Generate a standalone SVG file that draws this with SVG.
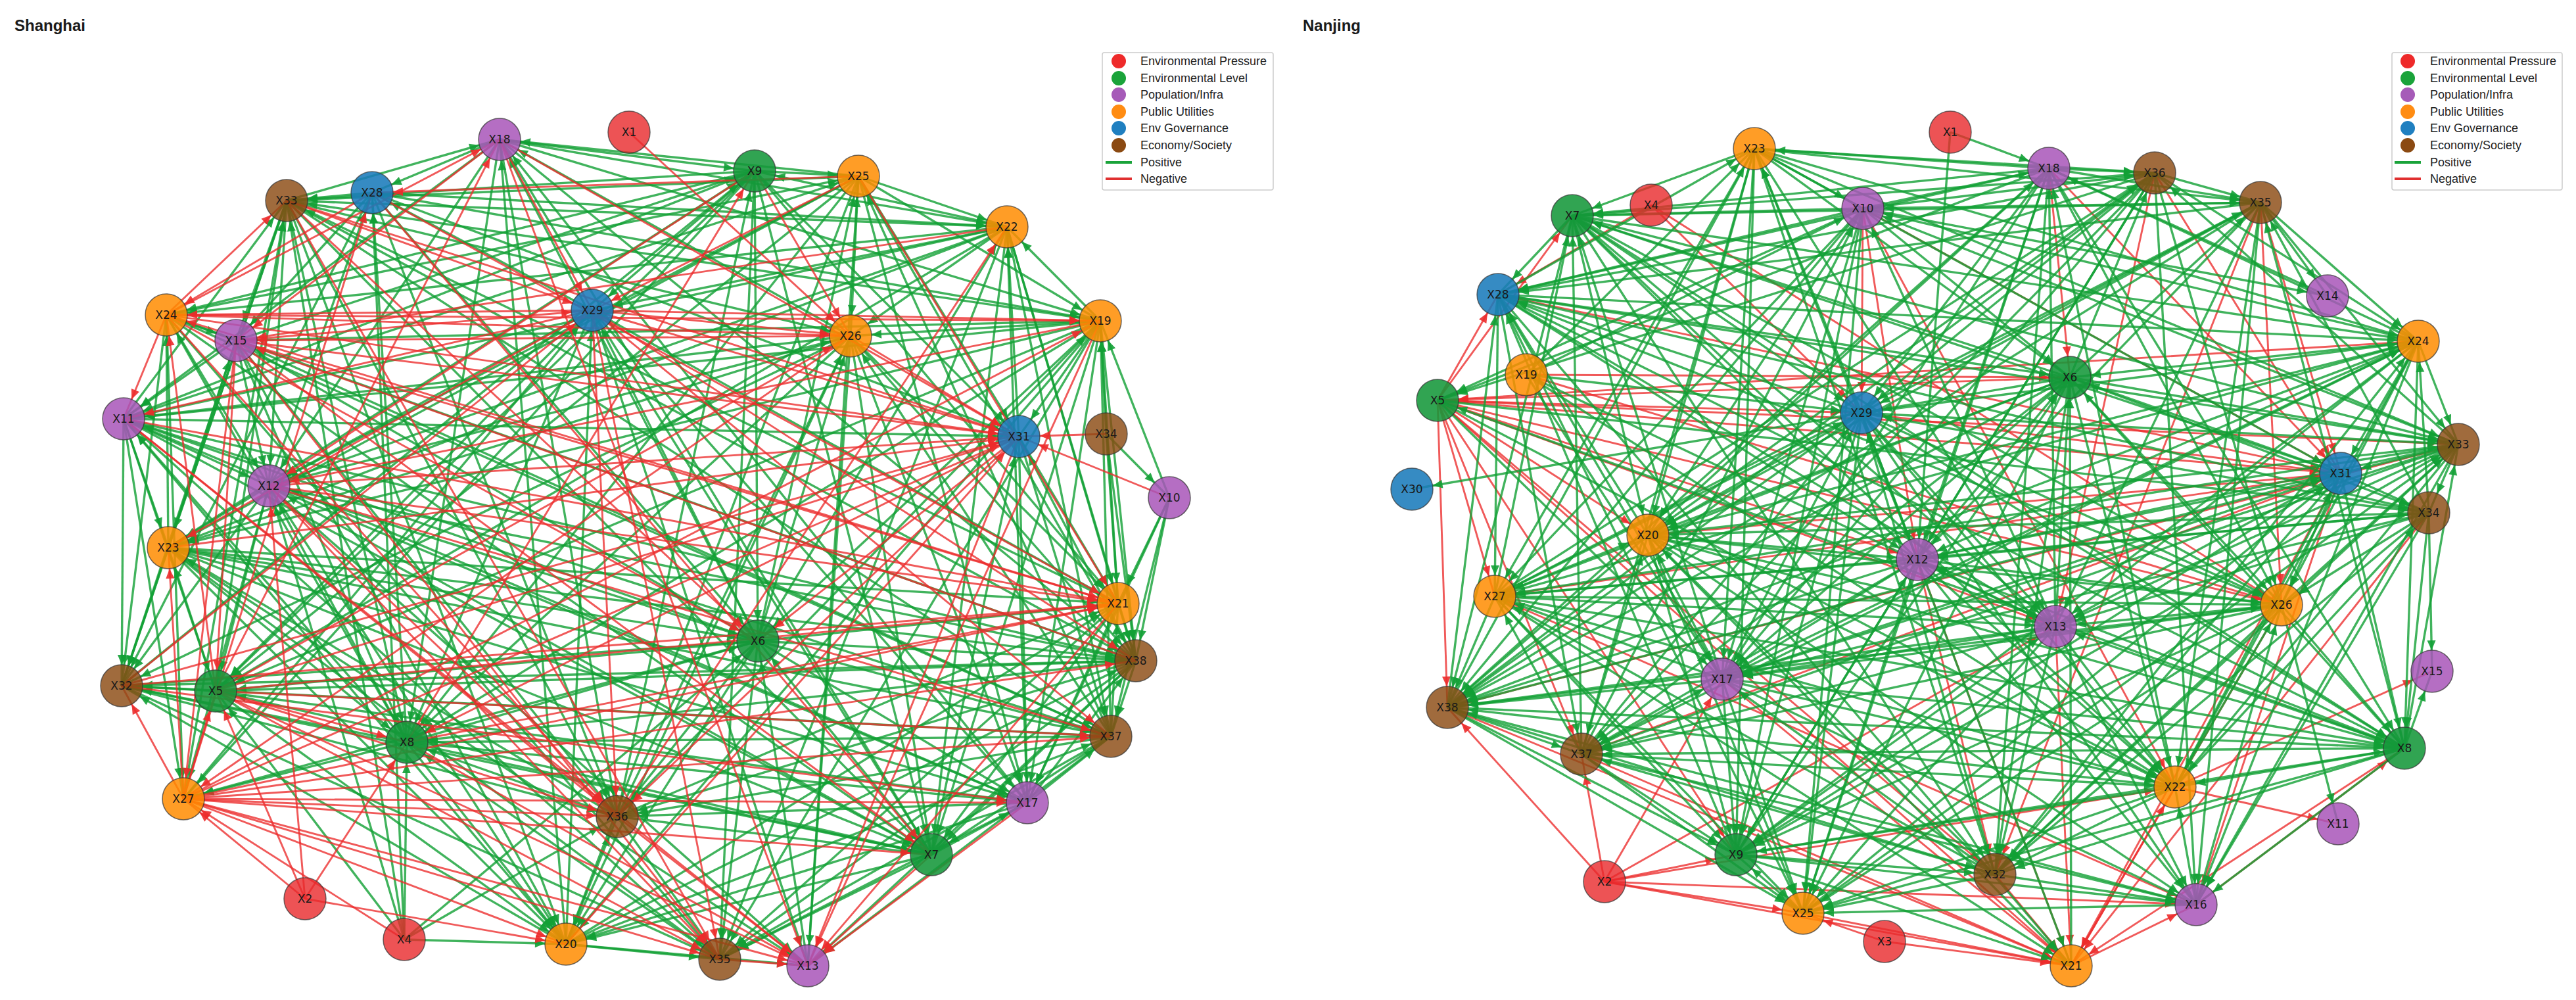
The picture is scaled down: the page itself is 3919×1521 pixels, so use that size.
<svg xmlns="http://www.w3.org/2000/svg" width="3919" height="1521" viewBox="0 0 3919 1521">
<style>
.eg path{fill:none;stroke:#12a035;stroke-width:3.4;stroke-opacity:.8;marker-end:url(#ag)}
.er path{fill:none;stroke:#ec2b2b;stroke-width:2.9;stroke-opacity:.78;marker-end:url(#ar)}
.node circle{stroke:#333;stroke-width:1.5;stroke-opacity:.7}
.node text{font-family:"DejaVu Sans",sans-serif;font-size:17px;text-anchor:middle;fill:#1a1a1a}
.ep{fill:#e8282b;fill-opacity:.8}
.el{fill:#14973a;fill-opacity:.88}
.pi{fill:#a855b8;fill-opacity:.85}
.pu{fill:#ff8c00;fill-opacity:.85}
.gv{fill:#1a7bbb;fill-opacity:.88}
.ec{fill:#8b4a12;fill-opacity:.82}
.title{font-family:"Liberation Sans",Arial,sans-serif;font-size:24px;font-weight:bold;fill:#1a1a1a}
.legend rect{fill:#fff;stroke:#ccc;stroke-width:1.5}
.legend text{font-family:"Liberation Sans",Arial,sans-serif;font-size:18px;fill:#222}
</style>
<defs>
<marker id="ag" viewBox="0 0 60 20" refX="54" refY="10" markerWidth="60" markerHeight="20" markerUnits="userSpaceOnUse" orient="auto"><path d="M7 3.5L22 10L7 16.5z" fill="#12a035" fill-opacity=".9"/></marker>
<marker id="ar" viewBox="0 0 60 20" refX="54" refY="10" markerWidth="60" markerHeight="20" markerUnits="userSpaceOnUse" orient="auto"><path d="M7 3.5L22 10L7 16.5z" fill="#ec2b2b" fill-opacity=".9"/></marker>
</defs>
<rect width="3919" height="1521" fill="#fff"/>
<text class="title" x="22" y="47">Shanghai</text>
<text class="title" x="1982" y="47">Nanjing</text>

<g id="connectors-shanghai">
<g class="eg">
<path d="M760 212L1148 260"/><path d="M1306 268L760 212"/><path d="M760 212L566 293"/><path d="M436 305L760 212"/><path d="M760 212L1532 345"/><path d="M760 212L1674 488"/><path d="M1294 511L760 212"/><path d="M760 212L188 637"/><path d="M760 212L409 739"/><path d="M1153 975L760 212"/><path d="M760 212L1728 1005"/><path d="M760 212L619 1129"/><path d="M1563 1221L760 212"/><path d="M760 212L939 1242"/><path d="M760 212L1417 1300"/><path d="M861 1436L760 212"/>
<path d="M1148 260L1306 268"/><path d="M1148 260L436 305"/><path d="M1532 345L1148 260"/><path d="M1148 260L901 472"/><path d="M1148 260L253 479"/><path d="M359 518L1148 260"/><path d="M1148 260L188 637"/><path d="M1148 260L1550 664"/><path d="M256 833L1148 260"/><path d="M1148 260L1701 918"/><path d="M1148 260L1153 975"/><path d="M185 1043L1148 260"/><path d="M1148 260L328 1051"/><path d="M1148 260L279 1215"/><path d="M939 1242L1148 260"/><path d="M1148 260L1417 1300"/><path d="M1148 260L1095 1459"/>
<path d="M1306 268L436 305"/><path d="M1306 268L1532 345"/><path d="M253 479L1306 268"/><path d="M1306 268L1674 488"/><path d="M1306 268L1294 511"/><path d="M188 637L1306 268"/><path d="M1306 268L1550 664"/><path d="M1306 268L409 739"/><path d="M1306 268L256 833"/><path d="M1153 975L1306 268"/><path d="M1306 268L1728 1005"/><path d="M1306 268L328 1051"/><path d="M1690 1120L1306 268"/><path d="M1306 268L619 1129"/><path d="M1306 268L1563 1221"/><path d="M1306 268L861 1436"/><path d="M1229 1469L1306 268"/>
<path d="M566 293L436 305"/><path d="M566 293L1532 345"/><path d="M901 472L566 293"/><path d="M566 293L1674 488"/><path d="M566 293L359 518"/><path d="M566 293L1550 664"/><path d="M409 739L566 293"/><path d="M566 293L1153 975"/><path d="M566 293L185 1043"/><path d="M619 1129L566 293"/><path d="M566 293L939 1242"/>
<path d="M436 305L1532 345"/><path d="M1674 488L436 305"/><path d="M436 305L1294 511"/><path d="M436 305L359 518"/><path d="M188 637L436 305"/><path d="M436 305L409 739"/><path d="M436 305L256 833"/><path d="M1701 918L436 305"/><path d="M436 305L1728 1005"/><path d="M436 305L185 1043"/><path d="M328 1051L436 305"/><path d="M436 305L1690 1120"/><path d="M436 305L619 1129"/><path d="M279 1215L436 305"/><path d="M436 305L939 1242"/><path d="M436 305L1417 1300"/><path d="M436 305L861 1436"/>
<path d="M1532 345L901 472"/><path d="M1532 345L253 479"/><path d="M1674 488L1532 345"/><path d="M1532 345L1294 511"/><path d="M1532 345L188 637"/><path d="M1550 664L1532 345"/><path d="M1532 345L409 739"/><path d="M1532 345L256 833"/><path d="M1532 345L1701 918"/><path d="M1153 975L1532 345"/><path d="M1532 345L1728 1005"/><path d="M1532 345L328 1051"/><path d="M1532 345L1690 1120"/><path d="M1563 1221L1532 345"/><path d="M1532 345L1417 1300"/><path d="M1532 345L1095 1459"/>
<path d="M901 472L409 739"/><path d="M901 472L1701 918"/><path d="M1153 975L901 472"/><path d="M901 472L328 1051"/><path d="M901 472L619 1129"/><path d="M279 1215L901 472"/><path d="M901 472L1563 1221"/><path d="M901 472L1417 1300"/><path d="M861 1436L901 472"/><path d="M901 472L1229 1469"/>
<path d="M253 479L359 518"/><path d="M253 479L409 739"/><path d="M256 833L253 479"/><path d="M253 479L1728 1005"/><path d="M253 479L185 1043"/><path d="M253 479L1690 1120"/><path d="M619 1129L253 479"/><path d="M253 479L279 1215"/><path d="M253 479L1417 1300"/><path d="M253 479L1095 1459"/>
<path d="M1674 488L1294 511"/><path d="M359 518L1674 488"/><path d="M1674 488L188 637"/><path d="M1674 488L1550 664"/><path d="M1674 488L256 833"/><path d="M1701 918L1674 488"/><path d="M1674 488L1153 975"/><path d="M1674 488L1728 1005"/><path d="M1674 488L328 1051"/><path d="M1690 1120L1674 488"/><path d="M1674 488L619 1129"/><path d="M1674 488L1563 1221"/><path d="M939 1242L1674 488"/><path d="M1674 488L1417 1300"/><path d="M1674 488L861 1436"/><path d="M1674 488L1095 1459"/>
<path d="M1294 511L188 637"/><path d="M409 739L1294 511"/><path d="M1294 511L256 833"/><path d="M1294 511L1701 918"/><path d="M1153 975L1294 511"/><path d="M1294 511L1728 1005"/><path d="M1294 511L185 1043"/><path d="M1690 1120L1294 511"/><path d="M1294 511L619 1129"/><path d="M1294 511L1563 1221"/><path d="M939 1242L1294 511"/><path d="M1294 511L1417 1300"/><path d="M1294 511L861 1436"/><path d="M1294 511L1229 1469"/>
<path d="M359 518L188 637"/><path d="M359 518L409 739"/><path d="M256 833L359 518"/><path d="M359 518L1153 975"/><path d="M359 518L185 1043"/><path d="M1690 1120L359 518"/><path d="M359 518L619 1129"/><path d="M359 518L939 1242"/><path d="M359 518L861 1436"/>
<path d="M188 637L1550 664"/><path d="M188 637L409 739"/><path d="M188 637L256 833"/><path d="M1153 975L188 637"/><path d="M188 637L1728 1005"/><path d="M188 637L185 1043"/><path d="M188 637L328 1051"/><path d="M188 637L1690 1120"/><path d="M619 1129L188 637"/><path d="M188 637L279 1215"/><path d="M188 637L1563 1221"/><path d="M188 637L1417 1300"/><path d="M861 1436L188 637"/><path d="M188 637L1095 1459"/>
<path d="M1550 664L1701 918"/><path d="M1728 1005L1550 664"/><path d="M1550 664L1690 1120"/><path d="M1550 664L1563 1221"/><path d="M1417 1300L1550 664"/>
<path d="M409 739L256 833"/><path d="M409 739L1153 975"/><path d="M1728 1005L409 739"/><path d="M409 739L185 1043"/><path d="M409 739L328 1051"/><path d="M619 1129L409 739"/><path d="M409 739L279 1215"/><path d="M409 739L1563 1221"/><path d="M1417 1300L409 739"/><path d="M409 739L861 1436"/><path d="M409 739L1229 1469"/>
<path d="M256 833L1701 918"/><path d="M256 833L1153 975"/><path d="M256 833L1728 1005"/><path d="M256 833L185 1043"/><path d="M328 1051L256 833"/><path d="M256 833L1690 1120"/><path d="M256 833L619 1129"/><path d="M256 833L1563 1221"/><path d="M939 1242L256 833"/><path d="M256 833L1417 1300"/><path d="M256 833L861 1436"/><path d="M256 833L1095 1459"/><path d="M256 833L1229 1469"/>
<path d="M1153 975L1701 918"/><path d="M1701 918L1728 1005"/><path d="M1690 1120L1701 918"/><path d="M1701 918L1563 1221"/><path d="M939 1242L1701 918"/><path d="M1701 918L1417 1300"/><path d="M861 1436L1701 918"/><path d="M1701 918L1095 1459"/>
<path d="M1153 975L1728 1005"/><path d="M185 1043L1153 975"/><path d="M1153 975L328 1051"/><path d="M1153 975L1690 1120"/><path d="M619 1129L1153 975"/><path d="M1153 975L279 1215"/><path d="M1153 975L1563 1221"/><path d="M1153 975L939 1242"/><path d="M1417 1300L1153 975"/><path d="M1153 975L861 1436"/><path d="M1153 975L1095 1459"/><path d="M1229 1469L1153 975"/>
<path d="M1728 1005L185 1043"/><path d="M328 1051L1728 1005"/><path d="M1728 1005L1690 1120"/><path d="M1728 1005L619 1129"/><path d="M1563 1221L1728 1005"/><path d="M1728 1005L939 1242"/><path d="M1728 1005L1417 1300"/><path d="M861 1436L1728 1005"/><path d="M1728 1005L1095 1459"/><path d="M1728 1005L1229 1469"/>
<path d="M328 1051L185 1043"/><path d="M185 1043L1690 1120"/><path d="M619 1129L185 1043"/><path d="M185 1043L939 1242"/><path d="M185 1043L1417 1300"/><path d="M861 1436L185 1043"/><path d="M185 1043L1095 1459"/>
<path d="M328 1051L1563 1221"/><path d="M1417 1300L328 1051"/><path d="M328 1051L861 1436"/>
<path d="M1690 1120L619 1129"/><path d="M1563 1221L1690 1120"/><path d="M1690 1120L939 1242"/><path d="M1690 1120L1417 1300"/><path d="M861 1436L1690 1120"/><path d="M1690 1120L1095 1459"/><path d="M1690 1120L1229 1469"/>
<path d="M619 1129L279 1215"/><path d="M619 1129L1563 1221"/><path d="M939 1242L619 1129"/><path d="M619 1129L1417 1300"/><path d="M619 1129L861 1436"/><path d="M1095 1459L619 1129"/>
<path d="M1563 1221L939 1242"/><path d="M1417 1300L1563 1221"/><path d="M1563 1221L861 1436"/><path d="M1563 1221L1095 1459"/>
<path d="M939 1242L1417 1300"/><path d="M861 1436L939 1242"/><path d="M939 1242L1095 1459"/>
<path d="M1417 1300L861 1436"/><path d="M1417 1300L1095 1459"/><path d="M861 1436L1095 1459"/><path d="M861 1436L1229 1469"/>
<path d="M1683 660L1674 488"/><path d="M1683 660L1701 918"/><path d="M1683 660L1728 1005"/><path d="M1683 660L1779 757"/>
<path d="M1779 757L1674 488"/><path d="M1779 757L1701 918"/><path d="M1779 757L1728 1005"/><path d="M1779 757L1690 1120"/><path d="M1779 757L1563 1221"/>
<path d="M615 1429L861 1436"/><path d="M615 1429L619 1129"/><path d="M615 1429L328 1051"/><path d="M615 1429L409 739"/><path d="M615 1429L436 305"/><path d="M615 1429L1153 975"/><path d="M615 1429L939 1242"/><path d="M615 1429L566 293"/>
</g>
<g class="er">
<path d="M760 212L901 472"/><path d="M253 479L760 212"/><path d="M760 212L359 518"/><path d="M760 212L1550 664"/><path d="M328 1051L760 212"/><path d="M760 212L1229 1469"/>
<path d="M1148 260L1294 511"/><path d="M1148 260L409 739"/><path d="M619 1129L1148 260"/>
<path d="M1306 268L566 293"/><path d="M1306 268L901 472"/><path d="M1306 268L1701 918"/>
<path d="M566 293L253 479"/><path d="M566 293L1701 918"/><path d="M279 1215L566 293"/><path d="M566 293L1417 1300"/>
<path d="M436 305L901 472"/><path d="M253 479L436 305"/><path d="M436 305L1550 664"/><path d="M436 305L1153 975"/><path d="M436 305L1095 1459"/>
<path d="M1532 345L359 518"/><path d="M939 1242L1532 345"/>
<path d="M901 472L253 479"/><path d="M901 472L1674 488"/><path d="M901 472L1294 511"/><path d="M359 518L901 472"/><path d="M901 472L188 637"/><path d="M901 472L1550 664"/><path d="M901 472L256 833"/><path d="M901 472L1728 1005"/><path d="M185 1043L901 472"/><path d="M901 472L1690 1120"/><path d="M901 472L939 1242"/><path d="M901 472L1095 1459"/>
<path d="M253 479L1674 488"/><path d="M253 479L1294 511"/><path d="M253 479L188 637"/><path d="M253 479L1550 664"/><path d="M1701 918L253 479"/><path d="M253 479L1153 975"/><path d="M328 1051L253 479"/><path d="M253 479L939 1242"/>
<path d="M1674 488L409 739"/><path d="M279 1215L1674 488"/><path d="M1674 488L1229 1469"/>
<path d="M1294 511L359 518"/><path d="M1294 511L1550 664"/><path d="M328 1051L1294 511"/><path d="M1294 511L279 1215"/>
<path d="M359 518L1550 664"/><path d="M359 518L1701 918"/><path d="M1728 1005L359 518"/><path d="M359 518L328 1051"/><path d="M359 518L279 1215"/><path d="M359 518L1417 1300"/><path d="M359 518L1095 1459"/>
<path d="M188 637L1701 918"/><path d="M188 637L939 1242"/><path d="M188 637L1229 1469"/>
<path d="M409 739L1550 664"/><path d="M256 833L1550 664"/><path d="M1550 664L1153 975"/><path d="M185 1043L1550 664"/><path d="M328 1051L1550 664"/><path d="M1550 664L619 1129"/><path d="M279 1215L1550 664"/><path d="M1550 664L939 1242"/><path d="M861 1436L1550 664"/><path d="M1550 664L1229 1469"/>
<path d="M409 739L1701 918"/><path d="M409 739L1690 1120"/><path d="M409 739L939 1242"/><path d="M409 739L1095 1459"/>
<path d="M279 1215L256 833"/>
<path d="M185 1043L1701 918"/><path d="M328 1051L1701 918"/><path d="M619 1129L1701 918"/><path d="M279 1215L1701 918"/><path d="M1701 918L1229 1469"/>
<path d="M279 1215L1728 1005"/>
<path d="M279 1215L185 1043"/><path d="M185 1043L1563 1221"/>
<path d="M328 1051L1690 1120"/><path d="M328 1051L619 1129"/><path d="M279 1215L328 1051"/><path d="M328 1051L939 1242"/><path d="M328 1051L1095 1459"/><path d="M328 1051L1229 1469"/>
<path d="M279 1215L1690 1120"/><path d="M619 1129L1229 1469"/>
<path d="M279 1215L1563 1221"/><path d="M279 1215L939 1242"/><path d="M279 1215L1417 1300"/><path d="M279 1215L861 1436"/><path d="M279 1215L1095 1459"/><path d="M279 1215L1229 1469"/>
<path d="M1563 1221L1229 1469"/><path d="M939 1242L1229 1469"/><path d="M1417 1300L1229 1469"/><path d="M1095 1459L1229 1469"/>
<path d="M957 201L1294 511"/><path d="M1683 660L1550 664"/><path d="M1779 757L1550 664"/>
<path d="M464 1367L279 1215"/><path d="M464 1367L328 1051"/><path d="M464 1367L619 1129"/><path d="M464 1367L861 1436"/><path d="M464 1367L409 739"/><path d="M615 1429L279 1215"/>
</g>
</g>

<g id="connectors-nanjing">
<g class="er">
<path d="M3117 256L3149 574"/><path d="M3117 256L3561 720"/><path d="M3278 263L3561 720"/><path d="M3278 263L3127 953"/>
<path d="M3439 308L3561 720"/><path d="M3439 308L3471 920"/><path d="M3439 308L3035 1330"/>
<path d="M2834 317L2832 628"/><path d="M2834 317L3561 720"/><path d="M2834 317L2917 851"/><path d="M2834 317L3309 1197"/>
<path d="M2187 609L2392 328"/><path d="M2187 609L2279 448"/><path d="M2279 448L3561 720"/><path d="M3679 519L2187 609"/><path d="M3149 574L2187 609"/>
<path d="M2187 609L2832 628"/><path d="M2187 609L3740 676"/><path d="M2187 609L3561 720"/><path d="M2187 609L2507 814"/><path d="M2187 609L2917 851"/><path d="M2187 609L2274 907"/><path d="M2187 609L3471 920"/><path d="M2187 609L3127 953"/><path d="M2187 609L2202 1076"/><path d="M2187 609L2406 1147"/><path d="M2187 609L2641 1300"/><path d="M2187 609L3035 1330"/><path d="M2187 609L3151 1469"/>
<path d="M2832 628L3561 720"/><path d="M3740 676L2202 1076"/>
<path d="M2507 814L3561 720"/><path d="M2274 907L3561 720"/><path d="M2406 1147L3561 720"/><path d="M3561 720L3341 1376"/><path d="M3561 720L3151 1469"/>
<path d="M3695 780L3151 1469"/><path d="M2917 851L3035 1330"/><path d="M2917 851L3151 1469"/><path d="M2274 907L3341 1376"/>
<path d="M3471 920L3151 1469"/><path d="M3127 953L3151 1469"/><path d="M2620 1033L3151 1469"/><path d="M2202 1076L3151 1469"/><path d="M3658 1138L3151 1469"/><path d="M2406 1147L3151 1469"/><path d="M3151 1469L3309 1197"/><path d="M3035 1330L3151 1469"/><path d="M3151 1469L3341 1376"/><path d="M2743 1389L3151 1469"/>
<path d="M2322 570L3149 574"/><path d="M2322 570L3471 920"/>
<path d="M2512 312L2279 448"/><path d="M2512 312L3471 920"/><path d="M2512 312L2832 628"/>
<path d="M3309 1197L3700 1021"/><path d="M3309 1197L3557 1253"/><path d="M3341 1376L3658 1138"/>
<path d="M2867 1432L2743 1389"/><path d="M2867 1432L3151 1469"/>
<path d="M2441 1341L2202 1076"/><path d="M2441 1341L2406 1147"/><path d="M2441 1341L2620 1033"/><path d="M2441 1341L2641 1300"/><path d="M2441 1341L2743 1389"/><path d="M2441 1341L3151 1469"/><path d="M2441 1341L3309 1197"/><path d="M2441 1341L3127 953"/><path d="M2441 1341L3341 1376"/>
</g>
<g class="eg">
<path d="M3117 256L2669 226"/><path d="M2669 226L3278 263"/><path d="M2669 226L3439 308"/><path d="M2669 226L2834 317"/><path d="M2669 226L2392 328"/><path d="M2279 448L2669 226"/><path d="M2669 226L3679 519"/><path d="M2669 226L3149 574"/><path d="M2832 628L2669 226"/><path d="M2669 226L3740 676"/><path d="M2669 226L3561 720"/><path d="M2669 226L2507 814"/><path d="M2917 851L2669 226"/><path d="M2669 226L2274 907"/><path d="M2669 226L3127 953"/><path d="M2669 226L2620 1033"/><path d="M2202 1076L2669 226"/><path d="M2669 226L2406 1147"/><path d="M2669 226L2641 1300"/><path d="M2669 226L3035 1330"/>
<path d="M3117 256L3278 263"/><path d="M3117 256L3439 308"/><path d="M2834 317L3117 256"/><path d="M3117 256L2392 328"/><path d="M3117 256L2279 448"/><path d="M3679 519L3117 256"/><path d="M3117 256L2187 609"/><path d="M3117 256L2832 628"/><path d="M2507 814L3117 256"/><path d="M3117 256L2917 851"/><path d="M3117 256L3471 920"/><path d="M3127 953L3117 256"/><path d="M3117 256L2620 1033"/><path d="M3117 256L2202 1076"/><path d="M3117 256L3658 1138"/><path d="M3309 1197L3117 256"/><path d="M3117 256L3035 1330"/><path d="M3117 256L2743 1389"/>
<path d="M3278 263L3439 308"/><path d="M2834 317L3278 263"/><path d="M3278 263L2392 328"/><path d="M3278 263L2279 448"/><path d="M3278 263L3679 519"/><path d="M3149 574L3278 263"/><path d="M3278 263L2187 609"/><path d="M3278 263L2832 628"/><path d="M3740 676L3278 263"/><path d="M3278 263L2507 814"/><path d="M3278 263L2917 851"/><path d="M2274 907L3278 263"/><path d="M3278 263L3471 920"/><path d="M3278 263L2620 1033"/><path d="M2202 1076L3278 263"/><path d="M3278 263L2406 1147"/><path d="M3278 263L2641 1300"/><path d="M3278 263L3341 1376"/>
<path d="M3439 308L2834 317"/><path d="M2392 328L3439 308"/><path d="M3439 308L2279 448"/><path d="M3439 308L3679 519"/><path d="M3149 574L3439 308"/><path d="M3439 308L2832 628"/><path d="M3439 308L3740 676"/><path d="M3695 780L3439 308"/><path d="M3439 308L2507 814"/><path d="M3439 308L2917 851"/><path d="M2274 907L3439 308"/><path d="M3439 308L3127 953"/><path d="M3439 308L2202 1076"/><path d="M3658 1138L3439 308"/><path d="M3439 308L3309 1197"/><path d="M3439 308L3341 1376"/>
<path d="M2834 317L2392 328"/><path d="M2834 317L2279 448"/><path d="M3679 519L2834 317"/><path d="M2834 317L3149 574"/><path d="M2834 317L2187 609"/><path d="M3740 676L2834 317"/><path d="M2834 317L2507 814"/><path d="M2834 317L2274 907"/><path d="M3127 953L2834 317"/><path d="M2834 317L2620 1033"/><path d="M2834 317L2202 1076"/><path d="M2406 1147L2834 317"/><path d="M2834 317L2641 1300"/><path d="M2834 317L2743 1389"/>
<path d="M2392 328L2279 448"/><path d="M2392 328L3679 519"/><path d="M3149 574L2392 328"/><path d="M2392 328L2832 628"/><path d="M2392 328L3740 676"/><path d="M3561 720L2392 328"/><path d="M2392 328L2507 814"/><path d="M2392 328L2917 851"/><path d="M2274 907L2392 328"/><path d="M2392 328L3471 920"/><path d="M2392 328L3127 953"/><path d="M2620 1033L2392 328"/><path d="M2392 328L2202 1076"/><path d="M2392 328L3658 1138"/><path d="M2406 1147L2392 328"/><path d="M2392 328L3309 1197"/><path d="M2392 328L3035 1330"/>
<path d="M2279 448L3679 519"/><path d="M2279 448L3149 574"/><path d="M2832 628L2279 448"/><path d="M2279 448L3740 676"/><path d="M2279 448L3695 780"/><path d="M2507 814L2279 448"/><path d="M2279 448L2917 851"/><path d="M2279 448L2274 907"/><path d="M3471 920L2279 448"/><path d="M2279 448L3127 953"/><path d="M2279 448L2620 1033"/><path d="M2202 1076L2279 448"/><path d="M2279 448L3658 1138"/><path d="M2279 448L2406 1147"/><path d="M2641 1300L2279 448"/><path d="M2279 448L2743 1389"/><path d="M2279 448L3151 1469"/>
<path d="M3679 519L3149 574"/><path d="M2832 628L3679 519"/><path d="M3679 519L3740 676"/><path d="M3679 519L3561 720"/><path d="M3695 780L3679 519"/><path d="M3679 519L2507 814"/><path d="M3679 519L2917 851"/><path d="M2274 907L3679 519"/><path d="M3679 519L3471 920"/><path d="M3679 519L3127 953"/><path d="M2620 1033L3679 519"/><path d="M3679 519L2202 1076"/><path d="M3679 519L3658 1138"/><path d="M2406 1147L3679 519"/><path d="M3679 519L3309 1197"/><path d="M3679 519L2641 1300"/><path d="M3035 1330L3679 519"/><path d="M3679 519L3341 1376"/>
<path d="M3149 574L2832 628"/><path d="M3149 574L3740 676"/><path d="M3561 720L3149 574"/><path d="M3149 574L3695 780"/><path d="M3149 574L2507 814"/><path d="M2917 851L3149 574"/><path d="M3149 574L2274 907"/><path d="M3149 574L3471 920"/><path d="M3127 953L3149 574"/><path d="M3149 574L2620 1033"/><path d="M3149 574L2202 1076"/><path d="M3658 1138L3149 574"/><path d="M3149 574L2406 1147"/><path d="M3149 574L3309 1197"/><path d="M2641 1300L3149 574"/><path d="M3149 574L3035 1330"/><path d="M3149 574L2743 1389"/><path d="M3151 1469L3149 574"/>
<path d="M2187 609L3695 780"/><path d="M2187 609L2620 1033"/><path d="M3658 1138L2187 609"/><path d="M2187 609L3309 1197"/>
<path d="M2832 628L3740 676"/><path d="M3695 780L2832 628"/><path d="M2832 628L2507 814"/><path d="M2832 628L2917 851"/><path d="M2274 907L2832 628"/><path d="M2832 628L3471 920"/><path d="M2832 628L3127 953"/><path d="M2620 1033L2832 628"/><path d="M2832 628L2202 1076"/><path d="M2832 628L3658 1138"/><path d="M2406 1147L2832 628"/><path d="M2832 628L3309 1197"/><path d="M2832 628L2641 1300"/><path d="M3035 1330L2832 628"/><path d="M2832 628L3341 1376"/><path d="M2832 628L2743 1389"/><path d="M2832 628L3151 1469"/>
<path d="M3740 676L3561 720"/><path d="M3740 676L3695 780"/><path d="M2507 814L3740 676"/><path d="M3740 676L2917 851"/><path d="M3740 676L2274 907"/><path d="M3471 920L3740 676"/><path d="M3740 676L3127 953"/><path d="M3740 676L2620 1033"/><path d="M3658 1138L3740 676"/><path d="M3740 676L2406 1147"/><path d="M3740 676L3309 1197"/><path d="M2641 1300L3740 676"/><path d="M3740 676L3035 1330"/><path d="M3740 676L3341 1376"/><path d="M2743 1389L3740 676"/>
<path d="M3561 720L3695 780"/><path d="M2917 851L3561 720"/><path d="M3561 720L3471 920"/><path d="M3561 720L3127 953"/><path d="M2620 1033L3561 720"/><path d="M3561 720L2202 1076"/><path d="M3561 720L3658 1138"/><path d="M3309 1197L3561 720"/><path d="M3561 720L2641 1300"/><path d="M3561 720L3035 1330"/><path d="M2743 1389L3561 720"/>
<path d="M3695 780L2507 814"/><path d="M3695 780L2917 851"/><path d="M2274 907L3695 780"/><path d="M3695 780L3471 920"/><path d="M3695 780L3127 953"/><path d="M3695 780L2620 1033"/><path d="M3695 780L3658 1138"/><path d="M3309 1197L3695 780"/><path d="M3695 780L3035 1330"/><path d="M3695 780L3341 1376"/>
<path d="M2507 814L2917 851"/><path d="M2274 907L2507 814"/><path d="M2507 814L3471 920"/><path d="M2507 814L3127 953"/><path d="M2620 1033L2507 814"/><path d="M2507 814L2202 1076"/><path d="M2507 814L3658 1138"/><path d="M2406 1147L2507 814"/><path d="M2507 814L3309 1197"/><path d="M2507 814L2641 1300"/><path d="M3035 1330L2507 814"/><path d="M2507 814L3341 1376"/><path d="M2507 814L2743 1389"/><path d="M2507 814L3151 1469"/>
<path d="M2917 851L2274 907"/><path d="M2917 851L3471 920"/><path d="M3127 953L2917 851"/><path d="M2917 851L2620 1033"/><path d="M2917 851L2202 1076"/><path d="M3658 1138L2917 851"/><path d="M2917 851L2406 1147"/><path d="M2917 851L3309 1197"/><path d="M2641 1300L2917 851"/><path d="M2917 851L3341 1376"/><path d="M2917 851L2743 1389"/>
<path d="M2274 907L3471 920"/><path d="M2274 907L3127 953"/><path d="M2620 1033L2274 907"/><path d="M2274 907L2202 1076"/><path d="M2274 907L3658 1138"/><path d="M2406 1147L2274 907"/><path d="M2274 907L3309 1197"/><path d="M2274 907L2641 1300"/><path d="M3035 1330L2274 907"/><path d="M2274 907L2743 1389"/><path d="M2274 907L3151 1469"/>
<path d="M3471 920L3127 953"/><path d="M3471 920L2620 1033"/><path d="M2202 1076L3471 920"/><path d="M3471 920L3658 1138"/><path d="M3471 920L2406 1147"/><path d="M3309 1197L3471 920"/><path d="M3471 920L2641 1300"/><path d="M3471 920L3035 1330"/><path d="M3341 1376L3471 920"/><path d="M3471 920L2743 1389"/>
<path d="M3127 953L2620 1033"/><path d="M3127 953L2202 1076"/><path d="M3658 1138L3127 953"/><path d="M3127 953L2406 1147"/><path d="M3127 953L3309 1197"/><path d="M2641 1300L3127 953"/><path d="M3127 953L3035 1330"/><path d="M3127 953L3341 1376"/><path d="M3127 953L2743 1389"/>
<path d="M2620 1033L2202 1076"/><path d="M2620 1033L3658 1138"/><path d="M2406 1147L2620 1033"/><path d="M2620 1033L3309 1197"/><path d="M2620 1033L2641 1300"/><path d="M3035 1330L2620 1033"/><path d="M2620 1033L3341 1376"/><path d="M2620 1033L2743 1389"/>
<path d="M2202 1076L3658 1138"/><path d="M2202 1076L2406 1147"/><path d="M3309 1197L2202 1076"/><path d="M2202 1076L2641 1300"/><path d="M2202 1076L3035 1330"/><path d="M3341 1376L2202 1076"/><path d="M2202 1076L2743 1389"/>
<path d="M3658 1138L2406 1147"/><path d="M3658 1138L3309 1197"/><path d="M2641 1300L3658 1138"/><path d="M3658 1138L3035 1330"/><path d="M3658 1138L3341 1376"/><path d="M3658 1138L2743 1389"/>
<path d="M2406 1147L3309 1197"/><path d="M2406 1147L2641 1300"/><path d="M3035 1330L2406 1147"/><path d="M2406 1147L3341 1376"/><path d="M2406 1147L2743 1389"/>
<path d="M3309 1197L2641 1300"/><path d="M3309 1197L3035 1330"/><path d="M3341 1376L3309 1197"/><path d="M3309 1197L2743 1389"/>
<path d="M2641 1300L3035 1330"/><path d="M2641 1300L3341 1376"/><path d="M2743 1389L2641 1300"/><path d="M2641 1300L3151 1469"/>
<path d="M3035 1330L3341 1376"/><path d="M3035 1330L2743 1389"/><path d="M3341 1376L2743 1389"/>
<path d="M2322 570L2669 226"/><path d="M2322 570L2834 317"/><path d="M2322 570L2832 628"/><path d="M2322 570L3127 953"/><path d="M2322 570L3309 1197"/><path d="M2322 570L2620 1033"/>
<path d="M2967 201L2917 851"/><path d="M2967 201L3117 256"/>
<path d="M3439 308L3541 450"/><path d="M3117 256L3541 450"/><path d="M2834 317L3541 450"/>
<path d="M2832 628L2148 744"/>
<path d="M3695 780L3700 1021"/><path d="M3658 1138L3700 1021"/><path d="M3471 920L3557 1253"/>
</g>
</g>

<g id="nodes-shanghai" class="node">
<g id="sh-X1"><circle class="ep" cx="957" cy="201" r="32"/><text x="957" y="207">X1</text></g>
<g id="sh-X18"><circle class="pi" cx="760" cy="212" r="32"/><text x="760" y="218">X18</text></g>
<g id="sh-X9"><circle class="el" cx="1148" cy="260" r="32"/><text x="1148" y="266">X9</text></g>
<g id="sh-X25"><circle class="pu" cx="1306" cy="268" r="32"/><text x="1306" y="274">X25</text></g>
<g id="sh-X28"><circle class="gv" cx="566" cy="293" r="32"/><text x="566" y="299">X28</text></g>
<g id="sh-X33"><circle class="ec" cx="436" cy="305" r="32"/><text x="436" y="311">X33</text></g>
<g id="sh-X22"><circle class="pu" cx="1532" cy="345" r="32"/><text x="1532" y="351">X22</text></g>
<g id="sh-X29"><circle class="gv" cx="901" cy="472" r="32"/><text x="901" y="478">X29</text></g>
<g id="sh-X24"><circle class="pu" cx="253" cy="479" r="32"/><text x="253" y="485">X24</text></g>
<g id="sh-X19"><circle class="pu" cx="1674" cy="488" r="32"/><text x="1674" y="494">X19</text></g>
<g id="sh-X26"><circle class="pu" cx="1294" cy="511" r="32"/><text x="1294" y="517">X26</text></g>
<g id="sh-X15"><circle class="pi" cx="359" cy="518" r="32"/><text x="359" y="524">X15</text></g>
<g id="sh-X11"><circle class="pi" cx="188" cy="637" r="32"/><text x="188" y="643">X11</text></g>
<g id="sh-X34"><circle class="ec" cx="1683" cy="660" r="32"/><text x="1683" y="666">X34</text></g>
<g id="sh-X31"><circle class="gv" cx="1550" cy="664" r="32"/><text x="1550" y="670">X31</text></g>
<g id="sh-X12"><circle class="pi" cx="409" cy="739" r="32"/><text x="409" y="745">X12</text></g>
<g id="sh-X10"><circle class="pi" cx="1779" cy="757" r="32"/><text x="1779" y="763">X10</text></g>
<g id="sh-X23"><circle class="pu" cx="256" cy="833" r="32"/><text x="256" y="839">X23</text></g>
<g id="sh-X21"><circle class="pu" cx="1701" cy="918" r="32"/><text x="1701" y="924">X21</text></g>
<g id="sh-X6"><circle class="el" cx="1153" cy="975" r="32"/><text x="1153" y="981">X6</text></g>
<g id="sh-X38"><circle class="ec" cx="1728" cy="1005" r="32"/><text x="1728" y="1011">X38</text></g>
<g id="sh-X32"><circle class="ec" cx="185" cy="1043" r="32"/><text x="185" y="1049">X32</text></g>
<g id="sh-X5"><circle class="el" cx="328" cy="1051" r="32"/><text x="328" y="1057">X5</text></g>
<g id="sh-X37"><circle class="ec" cx="1690" cy="1120" r="32"/><text x="1690" y="1126">X37</text></g>
<g id="sh-X8"><circle class="el" cx="619" cy="1129" r="32"/><text x="619" y="1135">X8</text></g>
<g id="sh-X27"><circle class="pu" cx="279" cy="1215" r="32"/><text x="279" y="1221">X27</text></g>
<g id="sh-X17"><circle class="pi" cx="1563" cy="1221" r="32"/><text x="1563" y="1227">X17</text></g>
<g id="sh-X36"><circle class="ec" cx="939" cy="1242" r="32"/><text x="939" y="1248">X36</text></g>
<g id="sh-X7"><circle class="el" cx="1417" cy="1300" r="32"/><text x="1417" y="1306">X7</text></g>
<g id="sh-X2"><circle class="ep" cx="464" cy="1367" r="32"/><text x="464" y="1373">X2</text></g>
<g id="sh-X4"><circle class="ep" cx="615" cy="1429" r="32"/><text x="615" y="1435">X4</text></g>
<g id="sh-X20"><circle class="pu" cx="861" cy="1436" r="32"/><text x="861" y="1442">X20</text></g>
<g id="sh-X35"><circle class="ec" cx="1095" cy="1459" r="32"/><text x="1095" y="1465">X35</text></g>
<g id="sh-X13"><circle class="pi" cx="1229" cy="1469" r="32"/><text x="1229" y="1475">X13</text></g>
</g>

<g id="nodes-nanjing" class="node">
<g id="nj-X1"><circle class="ep" cx="2967" cy="201" r="32"/><text x="2967" y="207">X1</text></g>
<g id="nj-X23"><circle class="pu" cx="2669" cy="226" r="32"/><text x="2669" y="232">X23</text></g>
<g id="nj-X18"><circle class="pi" cx="3117" cy="256" r="32"/><text x="3117" y="262">X18</text></g>
<g id="nj-X36"><circle class="ec" cx="3278" cy="263" r="32"/><text x="3278" y="269">X36</text></g>
<g id="nj-X35"><circle class="ec" cx="3439" cy="308" r="32"/><text x="3439" y="314">X35</text></g>
<g id="nj-X4"><circle class="ep" cx="2512" cy="312" r="32"/><text x="2512" y="318">X4</text></g>
<g id="nj-X10"><circle class="pi" cx="2834" cy="317" r="32"/><text x="2834" y="323">X10</text></g>
<g id="nj-X7"><circle class="el" cx="2392" cy="328" r="32"/><text x="2392" y="334">X7</text></g>
<g id="nj-X14"><circle class="pi" cx="3541" cy="450" r="32"/><text x="3541" y="456">X14</text></g>
<g id="nj-X28"><circle class="gv" cx="2279" cy="448" r="32"/><text x="2279" y="454">X28</text></g>
<g id="nj-X24"><circle class="pu" cx="3679" cy="519" r="32"/><text x="3679" y="525">X24</text></g>
<g id="nj-X19"><circle class="pu" cx="2322" cy="570" r="32"/><text x="2322" y="576">X19</text></g>
<g id="nj-X6"><circle class="el" cx="3149" cy="574" r="32"/><text x="3149" y="580">X6</text></g>
<g id="nj-X5"><circle class="el" cx="2187" cy="609" r="32"/><text x="2187" y="615">X5</text></g>
<g id="nj-X29"><circle class="gv" cx="2832" cy="628" r="32"/><text x="2832" y="634">X29</text></g>
<g id="nj-X33"><circle class="ec" cx="3740" cy="676" r="32"/><text x="3740" y="682">X33</text></g>
<g id="nj-X31"><circle class="gv" cx="3561" cy="720" r="32"/><text x="3561" y="726">X31</text></g>
<g id="nj-X30"><circle class="gv" cx="2148" cy="744" r="32"/><text x="2148" y="750">X30</text></g>
<g id="nj-X34"><circle class="ec" cx="3695" cy="780" r="32"/><text x="3695" y="786">X34</text></g>
<g id="nj-X20"><circle class="pu" cx="2507" cy="814" r="32"/><text x="2507" y="820">X20</text></g>
<g id="nj-X12"><circle class="pi" cx="2917" cy="851" r="32"/><text x="2917" y="857">X12</text></g>
<g id="nj-X27"><circle class="pu" cx="2274" cy="907" r="32"/><text x="2274" y="913">X27</text></g>
<g id="nj-X26"><circle class="pu" cx="3471" cy="920" r="32"/><text x="3471" y="926">X26</text></g>
<g id="nj-X13"><circle class="pi" cx="3127" cy="953" r="32"/><text x="3127" y="959">X13</text></g>
<g id="nj-X15"><circle class="pi" cx="3700" cy="1021" r="32"/><text x="3700" y="1027">X15</text></g>
<g id="nj-X17"><circle class="pi" cx="2620" cy="1033" r="32"/><text x="2620" y="1039">X17</text></g>
<g id="nj-X38"><circle class="ec" cx="2202" cy="1076" r="32"/><text x="2202" y="1082">X38</text></g>
<g id="nj-X8"><circle class="el" cx="3658" cy="1138" r="32"/><text x="3658" y="1144">X8</text></g>
<g id="nj-X37"><circle class="ec" cx="2406" cy="1147" r="32"/><text x="2406" y="1153">X37</text></g>
<g id="nj-X22"><circle class="pu" cx="3309" cy="1197" r="32"/><text x="3309" y="1203">X22</text></g>
<g id="nj-X11"><circle class="pi" cx="3557" cy="1253" r="32"/><text x="3557" y="1259">X11</text></g>
<g id="nj-X9"><circle class="el" cx="2641" cy="1300" r="32"/><text x="2641" y="1306">X9</text></g>
<g id="nj-X32"><circle class="ec" cx="3035" cy="1330" r="32"/><text x="3035" y="1336">X32</text></g>
<g id="nj-X2"><circle class="ep" cx="2441" cy="1341" r="32"/><text x="2441" y="1347">X2</text></g>
<g id="nj-X16"><circle class="pi" cx="3341" cy="1376" r="32"/><text x="3341" y="1382">X16</text></g>
<g id="nj-X25"><circle class="pu" cx="2743" cy="1389" r="32"/><text x="2743" y="1395">X25</text></g>
<g id="nj-X3"><circle class="ep" cx="2867" cy="1432" r="32"/><text x="2867" y="1438">X3</text></g>
<g id="nj-X21"><circle class="pu" cx="3151" cy="1469" r="32"/><text x="3151" y="1475">X21</text></g>
</g>

<g id="legend-shanghai" class="legend">
<rect x="1677" y="80" width="260" height="209" rx="3"/>
<circle cx="1702" cy="93" r="11" fill="#ee2a2a"/>
<circle cx="1702" cy="119" r="11" fill="#1aa33a"/>
<circle cx="1702" cy="144" r="11" fill="#a65bb8"/>
<circle cx="1702" cy="170" r="11" fill="#ff8c12"/>
<circle cx="1702" cy="195" r="11" fill="#1f7fc0"/>
<circle cx="1702" cy="221" r="11" fill="#8b4a12"/>
<line x1="1682" y1="247" x2="1722" y2="247" stroke="#1aa33a" stroke-width="4"/>
<line x1="1682" y1="272" x2="1722" y2="272" stroke="#e03030" stroke-width="4"/>
<text x="1735" y="99">Environmental Pressure</text>
<text x="1735" y="125">Environmental Level</text>
<text x="1735" y="150">Population/Infra</text>
<text x="1735" y="176">Public Utilities</text>
<text x="1735" y="201">Env Governance</text>
<text x="1735" y="227">Economy/Society</text>
<text x="1735" y="253">Positive</text>
<text x="1735" y="278">Negative</text>
</g>

<g id="legend-nanjing" class="legend">
<rect x="3639" y="80" width="259" height="209" rx="3"/>
<circle cx="3663" cy="93" r="11" fill="#ee2a2a"/>
<circle cx="3663" cy="119" r="11" fill="#1aa33a"/>
<circle cx="3663" cy="144" r="11" fill="#a65bb8"/>
<circle cx="3663" cy="170" r="11" fill="#ff8c12"/>
<circle cx="3663" cy="195" r="11" fill="#1f7fc0"/>
<circle cx="3663" cy="221" r="11" fill="#8b4a12"/>
<line x1="3643" y1="247" x2="3683" y2="247" stroke="#1aa33a" stroke-width="4"/>
<line x1="3643" y1="272" x2="3683" y2="272" stroke="#e03030" stroke-width="4"/>
<text x="3697" y="99">Environmental Pressure</text>
<text x="3697" y="125">Environmental Level</text>
<text x="3697" y="150">Population/Infra</text>
<text x="3697" y="176">Public Utilities</text>
<text x="3697" y="201">Env Governance</text>
<text x="3697" y="227">Economy/Society</text>
<text x="3697" y="253">Positive</text>
<text x="3697" y="278">Negative</text>
</g>
</svg>
